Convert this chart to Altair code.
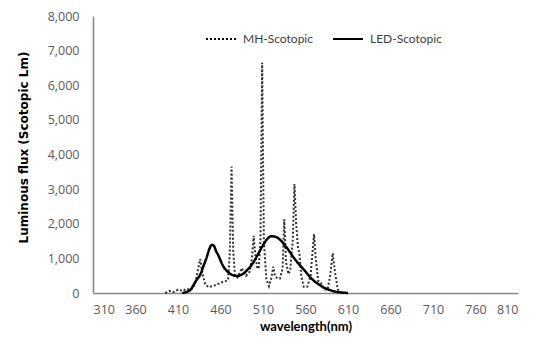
import altair as alt
import pandas as pd

# MH-Scotopic (dotted) spectrum samples: wavelength (nm), luminous flux
mh_wl = [395, 400, 405, 410, 415, 420, 425, 430, 433, 436, 439, 442, 446, 450, 455, 460, 465, 469,
         471, 473, 475, 477, 480, 483, 485, 487, 490, 494, 497, 499, 501, 503, 505, 507, 509, 511, 514,
         517, 520, 522, 524, 527, 530, 533, 535, 537, 540, 542, 545, 547, 549, 551, 553, 555, 558, 562,
         566, 568, 570, 572, 575, 578, 582, 586, 589, 592, 595, 598, 601, 605]
mh_val = [0, 60, 30, 100, 60, 120, 90, 250, 600, 980, 550, 250, 170, 200, 230, 300, 330, 380,
          1200, 3650, 1200, 500, 450, 600, 720, 620, 500, 600, 1000, 1650, 1100, 750, 700, 1500, 6650, 1500, 400,
          200, 450, 760, 500, 420, 420, 700, 2130, 900, 550, 650, 1500, 3150, 2000, 1350, 1100, 500, 180, 180,
          500, 1100, 1700, 1000, 350, 300, 100, 100, 500, 1150, 550, 100, 20, 0]

# LED-Scotopic (solid) spectrum samples
led_wl = [415, 420, 425, 428, 432, 436, 440, 444, 447, 450, 452, 455, 458, 461, 464, 467, 471, 475,
          479, 483, 487, 491, 495, 500, 505, 510, 515, 520, 525, 530, 535, 540, 545, 550, 555, 560, 565,
          570, 575, 580, 585, 590, 595, 600, 605, 610]
led_val = [0, 30, 100, 220, 380, 520, 780, 1050, 1280, 1390, 1370, 1200, 1060, 880, 740, 650, 564, 510,
           494, 510, 564, 650, 760, 940, 1160, 1380, 1560, 1640, 1620, 1540, 1400, 1240, 1060, 900, 760, 620, 470,
           350, 260, 180, 120, 75, 40, 20, 10, 0]

series_names = ["MH-Scotopic", "LED-Scotopic"]
x_ticks = [310, 360, 410, 460, 510, 560, 610, 660, 710, 760, 810]
y_ticks = [0, 1000, 2000, 3000, 4000, 5000, 6000, 7000, 8000]

mh_df = pd.DataFrame({"wl": mh_wl, "val": mh_val, "series": series_names[0]})
led_df = pd.DataFrame({"wl": led_wl, "val": led_val, "series": series_names[1]})

x_enc = alt.X("wl:Q", scale=alt.Scale(domain=[310, 810], nice=False, zero=False),
              axis=alt.Axis(values=x_ticks, title="wavelength(nm)", format="d",
                            titleFont="Lato", titleFontSize=13))
y_enc = alt.Y("val:Q", scale=alt.Scale(domain=[0, 8000], nice=False),
              axis=alt.Axis(values=y_ticks, title="Luminous flux (Scotopic Lm)", format=",d",
                            titleFont="DejaVu Sans", titleFontSize=12,
                            titleX=-70, titleY=131, titleBaseline="middle", titleAngle=270))
dash_enc = alt.StrokeDash("series:N",
                          scale=alt.Scale(domain=series_names, range=[[2, 2], [1, 0]]),
                          legend=alt.Legend(title=None, orient="none", direction="horizontal",
                                            legendX=112, legendY=7))

mh = alt.Chart(mh_df).mark_line(color="#303030", strokeWidth=2, interpolate="linear").encode(
    x=x_enc, y=y_enc, strokeDash=dash_enc)
led = alt.Chart(led_df).mark_line(color="#000000", strokeWidth=2.5, interpolate="monotone").encode(
    x=x_enc, y=y_enc, strokeDash=dash_enc)

chart = alt.layer(mh, led).properties(
    width=425, height=277,
    padding={"left": 93, "top": 16, "right": 19, "bottom": 52},
    autosize=alt.AutoSizeParams(type="none"),
).configure_view(stroke=None).configure_axis(
    grid=False, ticks=False, domainColor="#868686", domainWidth=1.5,
    labelFont="Open Sans", labelFontSize=12.5, labelColor="#595959",
    titleFontWeight="bold", titleColor="#000000",
).configure_axisY(labelPadding=14).configure_axisX(
    labelPadding=10, titlePadding=5
).configure_legend(
    symbolType="stroke", symbolSize=900, symbolStrokeWidth=2, symbolStrokeColor="#000000",
    labelFont="Lato", labelFontSize=12, labelColor="#404040", columnPadding=16, labelOffset=6,
)

chart.save("out.html", embed_options={"renderer": "svg", "actions": False})
